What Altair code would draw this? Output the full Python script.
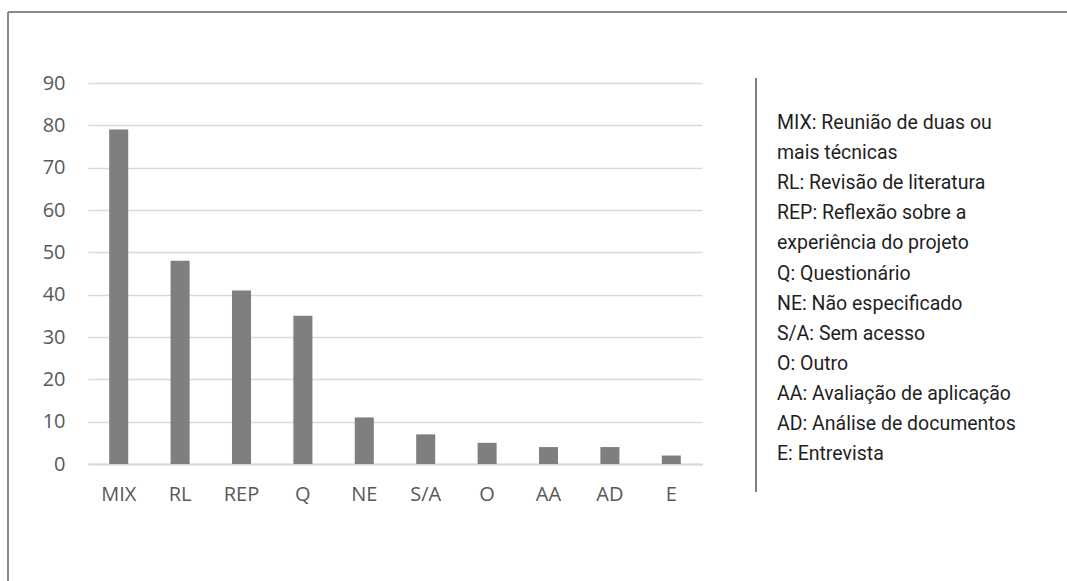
import altair as alt
import pandas as pd

# Number of studies by data-collection technique
categories = ["MIX", "RL", "REP", "Q", "NE", "S/A", "O", "AA", "AD", "E"]
counts = [79, 48, 41, 35, 11, 7, 5, 4, 4, 2]

# Key for the abbreviations, one entry per printed line
legend_lines = [
    "MIX: Reunião de duas ou",
    "mais técnicas",
    "RL: Revisão de literatura",
    "REP: Reflexão sobre a",
    "experiência do projeto",
    "Q: Questionário",
    "NE: Não especificado",
    "S/A: Sem acesso",
    "O: Outro",
    "AA: Avaliação de aplicação",
    "AD: Análise de documentos",
    "E: Entrevista",
]

y_ticks = list(range(0, 100, 10))

bars_df = pd.DataFrame({"tecnica": categories, "n": counts})
key_df = pd.DataFrame({"txt": ["\n".join(legend_lines)]})

AXIS_FONT = "Open Sans"
AXIS_COLOR = "#595959"
GRID_COLOR = "#d9d9d9"

bars = alt.Chart(bars_df).mark_bar(color="#7f7f7f").encode(
    x=alt.X(
        "tecnica:N",
        sort=categories,
        title=None,
        scale=alt.Scale(paddingInner=0.69, paddingOuter=0.345),
        axis=alt.Axis(
            labelAngle=0,
            labelFont=AXIS_FONT,
            labelFontSize=20,
            labelColor=AXIS_COLOR,
            labelPadding=20,
            ticks=False,
            domainColor=GRID_COLOR,
            domainWidth=2,
            grid=False,
        ),
    ),
    y=alt.Y(
        "n:Q",
        title=None,
        scale=alt.Scale(domain=[0, 90], nice=False),
        axis=alt.Axis(
            values=y_ticks,
            labelFont=AXIS_FONT,
            labelFontSize=20,
            labelColor=AXIS_COLOR,
            labelPadding=23,
            ticks=False,
            domain=False,
            gridColor=GRID_COLOR,
            gridWidth=1.5,
        ),
    ),
)

# Abbreviation key to the right of the plot
key_text = alt.Chart(key_df).mark_text(
    align="left",
    baseline="alphabetic",
    lineBreak="\n",
    lineHeight=30.1,
    font="Roboto",
    fontSize=19.5,
    color="#1f1f1f",
).encode(
    text="txt:N",
    x=alt.value(689),
    y=alt.value(46),
)

# Vertical separator beside the key
separator = alt.Chart(key_df).mark_rule(color="#808080", strokeWidth=2).encode(
    x=alt.value(668),
    y=alt.value(-5),
    y2=alt.value(409),
)

# Outer frame (top and left edges)
frame_top = alt.Chart(key_df).mark_rule(color="#8a8a8a", strokeWidth=2).encode(
    x=alt.value(-80),
    x2=alt.value(990),
    y=alt.value(-71),
)
frame_left = alt.Chart(key_df).mark_rule(color="#8a8a8a", strokeWidth=2).encode(
    x=alt.value(-80),
    y=alt.value(-71),
    y2=alt.value(510),
)

chart = (
    alt.layer(bars, key_text, separator, frame_top, frame_left)
    .properties(
        width=614,
        height=381,
        autosize=alt.AutoSizeParams(type="none"),
        padding={"left": 88, "top": 83, "right": 365, "bottom": 117},
        background="white",
    )
    .configure_view(stroke=None)
)

chart.save("out.html", embed_options={"renderer": "svg", "actions": False})
